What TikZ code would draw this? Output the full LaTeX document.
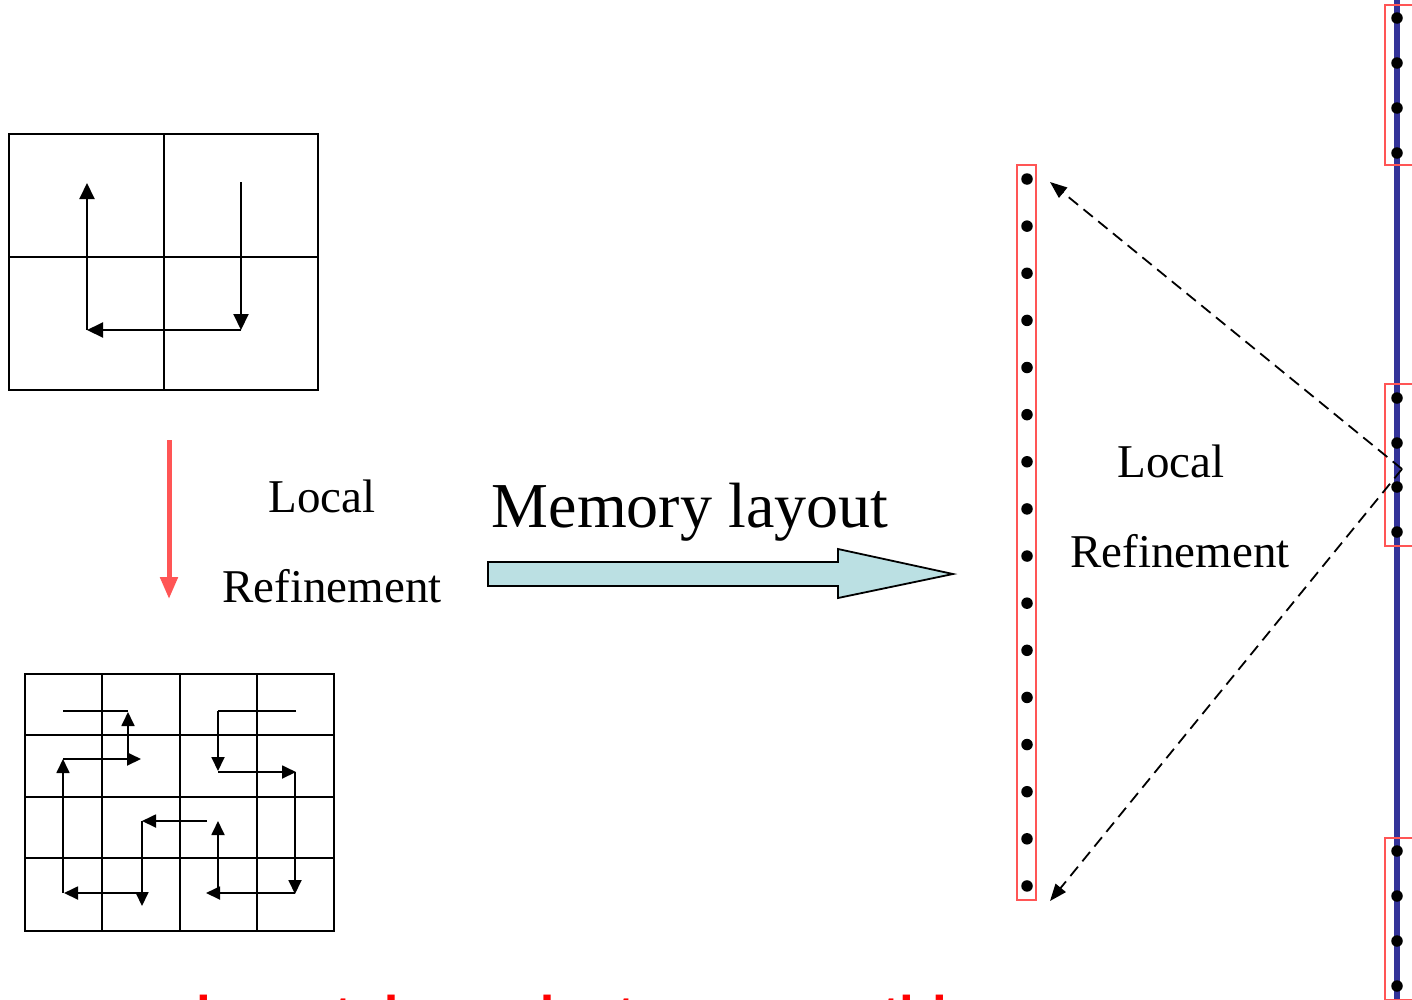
\documentclass[tikz,border=0pt]{standalone}
\usepackage{fontspec}
\setmainfont{Liberation Serif}
\newfontfamily\notefont{Liberation Sans}
\usepackage{xcolor}
\usepackage{tikz}
\usetikzlibrary{arrows.meta,positioning,calc}
\definecolor{boxred}{RGB}{255,85,85}
\definecolor{arrowteal}{RGB}{187,224,227}
\definecolor{memblue}{RGB}{51,51,153}

\begin{document}
\begin{tikzpicture}[x=1pt,y=-1pt,
    cell/.style={line width=2pt},
    walk/.style={line width=2pt,-{Triangle[length=16pt,width=15pt]}},
    fine/.style={line width=1.8pt,-{Triangle[length=14pt,width=13pt]}},
    dot/.style={circle,fill,inner sep=0pt,minimum size=11.5pt},
    caption/.style={font=\fontsize{47}{52}\selectfont,inner sep=0pt,anchor=base}]
    \clip (0,0) rectangle (1412,999);
    \fill[white] (0,0) rectangle (1412,999);

    % coarse mesh and its ordering
    \draw[cell] (9,134) rectangle (318,390);
    \draw[cell] (164,134) -- (164,390) (9,257) -- (318,257);
    \draw[walk] (241,182) -- (241,330);
    \draw[walk] (241,330) -- (87,330);
    \draw[walk] (87,330) -- (87,183);

    % refinement step
    \draw[boxred, line width=5pt, -{Triangle[length=22pt,width=17pt]}] (169,440) -- (169,599);
    \node[caption] (lrefine-a) at (322,512) {Local};
    \node[caption] (lrefine-b) at (332,602) {Refinement};

    % fine mesh and its ordering
    \draw[cell] (25,674) rectangle (334,931);
    \draw[cell] (102,674) -- (102,931) (180,674) -- (180,931) (257,674) -- (257,931);
    \draw[cell] (25,735) -- (334,735) (25,797) -- (334,797) (25,858) -- (334,858);
    \draw[line width=1.8pt] (296,711) -- (218,711);
    \draw[fine] (218,711) -- (218,771);
    \draw[fine] (218,772) -- (296,772);
    \draw[fine] (295,772) -- (295,894);
    \draw[fine] (295,893) -- (206,893);
    \draw[fine] (218,893) -- (218,821);
    \draw[fine] (207,821) -- (142,821);
    \draw[fine] (142,821) -- (142,906);
    \draw[fine] (142,893) -- (64,893);
    \draw[fine] (63,893) -- (63,759);
    \draw[fine] (63,759) -- (141,759);
    \draw[fine] (128,759) -- (128,712);
    \draw[line width=1.8pt] (128,711) -- (63,711);

    % block arrow
    \draw[line width=1.8pt, fill=arrowteal]
        (488,562) -- (838,562) -- (838,549) -- (953,574) -- (838,598) -- (838,586) -- (488,586) -- cycle;
    \node[font=\fontsize{64}{70}\selectfont, inner sep=0pt, anchor=base] (memlabel) at (690,527) {Memory layout};

    % local block
    \draw[boxred, line width=2pt] (1017,165) rectangle (1036,900);
    \foreach \i in {0,...,15}
        \node[dot] (cell\i) at (1027,{179+47.13*\i}) {};
    \node[caption] (rrefine-a) at (1171,477) {Local};
    \node[caption] (rrefine-b) at (1180,567) {Refinement};

    % global memory
    \draw[memblue, line width=6pt] (1397,-5) -- (1397,1005);
    \foreach \y/\h in {5/160, 384/162, 838/162}
        \draw[boxred, line width=2pt] (1385,\y) rectangle (1425,\y+\h);
    \foreach \y [count=\k] in {18,63,108,153,398,443,487,532,851,896,941,986}
        \node[dot] (mem\k) at (1397,\y) {};

    \coordinate (apex) at (1402,469);
    \coordinate (topend) at (1050,182);
    \coordinate (botend) at (1050,901);
    \draw[line width=1.8pt, dash pattern=on 12pt off 7pt, -{Triangle[length=17pt,width=13pt]}] (apex) -- (topend);
    \draw[line width=1.8pt, dash pattern=on 12pt off 7pt, -{Triangle[length=17pt,width=13pt]}] (apex) -- (botend);

    \node[font=\notefont\bfseries\fontsize{53}{60}\selectfont, text=red, anchor=base west, inner sep=0pt]
        (note) at (-25,1033) {memory layout dependent on many things};
\end{tikzpicture}
\end{document}
